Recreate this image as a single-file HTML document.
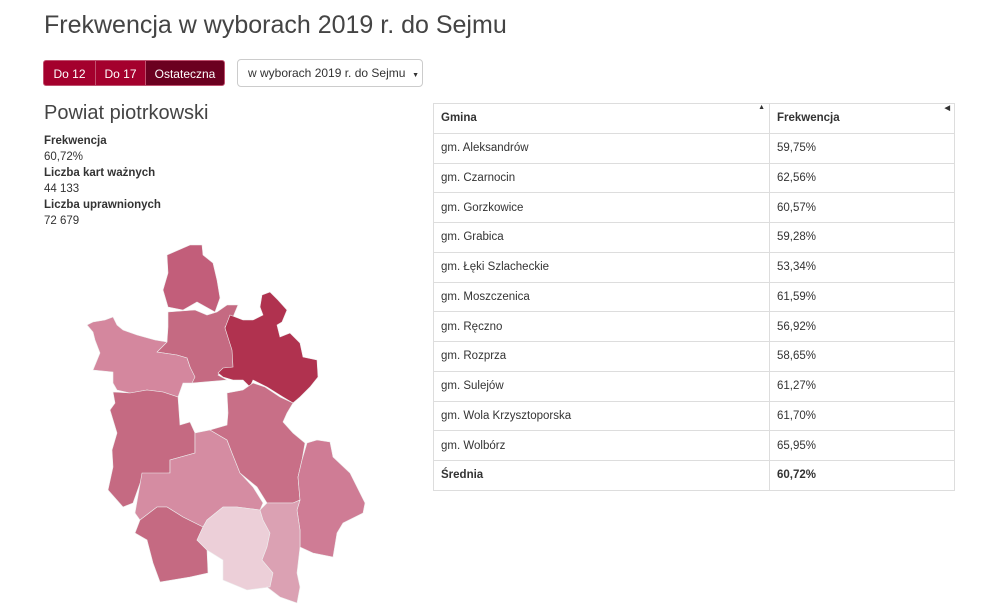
<!DOCTYPE html>
<html><head><meta charset="utf-8"><style>
body{margin:0;width:991px;height:610px;background:#fff;font-family:"Liberation Sans",sans-serif;color:#333;position:relative;overflow:hidden}
.a{position:absolute}
h1{position:absolute;left:44px;top:11px;margin:0;font-weight:normal;font-size:25px;color:#444}
.btn{position:absolute;top:60px;height:26px;line-height:26px;color:#fff;font-size:12px;text-align:center;background:#a4002d;border:1px solid #c0506e;box-sizing:border-box}
table{position:absolute;left:433px;top:103px;width:522px;border-collapse:collapse;font-size:11.5px}
td{border:1px solid #ddd;height:29.75px;padding:0 0 0 7px;box-sizing:border-box}
td:first-child{width:336px}
.b{font-weight:bold}
</style></head><body>
<h1>Frekwencja w wyborach 2019 r. do Sejmu</h1>
<div class="btn" style="left:43px;width:53px;border-radius:3px 0 0 3px">Do 12</div>
<div class="btn" style="left:95px;width:51px">Do 17</div>
<div class="btn" style="left:145px;width:80px;background:#6b0020;border-radius:0 3px 3px 0">Ostateczna</div>
<div class="a" style="left:237px;top:59px;width:186px;height:28px;border:1px solid #ccc;border-radius:4px;box-sizing:border-box;font-size:12px;line-height:26px;padding-left:10px;color:#333">w wyborach 2019 r. do Sejmu &nbsp;<span style="font-size:7px">▼</span></div>
<div class="a" style="left:44px;top:102px;font-size:20px;color:#444">Powiat piotrkowski</div>
<div class="a" style="left:44px;top:133px;font-size:11.5px;line-height:16px"><b>Frekwencja</b><br>60,72%<br><b>Liczba kart ważnych</b><br>44 133<br><b>Liczba uprawnionych</b><br>72 679</div>
<svg class="a" style="left:0;top:0" width="991" height="610" stroke="#eee" stroke-width="0.6">
<polygon fill="#c25e7a" points="167,255 190,245 202,245 203,255 213,263 217,280 220,298 215,312 197,302 183,310 168,307 163,290 168,273"/>
<polygon fill="#c56a82" points="168,312 195,310 207,315 217,312 227,305 238,305 233,317 225,327 233,350 235,370 223,370 218,375 227,380 192,383 190,367 187,358 177,355 157,352 167,342 168,327"/>
<polygon fill="#b0324f" points="262,295 270,292 278,300 287,310 282,322 277,325 280,337 290,333 300,343 303,357 317,360 318,377 310,387 300,397 293,403 283,397 267,387 253,380 250,387 243,380 233,380 223,377 218,373 223,368 233,367 232,350 225,328 230,315 243,320 253,320 263,315 260,307"/>
<polygon fill="#d4879e" points="87,325 93,322 105,320 113,317 117,325 123,330 137,335 155,340 167,342 157,352 177,355 187,358 190,367 195,377 192,383 183,383 178,397 163,392 147,390 130,393 117,390 113,383 113,372 93,370 100,353 95,340 93,332"/>
<polygon fill="#c56a82" points="113,392 130,393 147,390 163,392 178,397 180,425 190,422 195,433 195,453 170,460 170,473 143,475 133,503 123,507 108,490 113,467 112,450 117,433 110,410 115,403"/>
<polygon fill="#d58ca2" points="195,433 210,430 227,440 232,453 240,473 253,487 263,503 260,510 237,507 223,507 207,520 203,527 183,517 167,507 157,507 140,520 135,513 142,473 170,473 170,460 195,453"/>
<polygon fill="#c86f87" points="227,393 243,390 253,383 265,387 280,397 293,403 287,413 283,422 293,433 305,443 302,460 298,477 300,500 293,503 267,503 257,487 240,473 232,453 227,440 210,430 227,425 228,413"/>
<polygon fill="#cf7c95" points="307,443 317,440 330,442 333,457 350,473 357,487 365,503 363,513 343,523 337,533 333,557 313,553 300,547 300,530 297,510 300,500 298,477 302,460"/>
<polygon fill="#c56a82" points="140,520 157,507 167,507 183,517 203,527 197,540 207,550 208,573 190,577 160,582 153,563 147,540 135,533"/>
<polygon fill="#eccfd8" points="223,507 237,507 260,510 263,520 270,533 267,547 262,560 273,573 270,587 247,590 223,580 223,560 207,550 197,540 203,527 207,520"/>
<polygon fill="#dba1b3" points="260,510 267,503 293,503 300,500 297,510 300,530 300,547 297,573 300,587 297,603 280,597 267,587 270,587 273,573 262,560 267,547 270,533 263,520"/>
</svg>
<table>
<tr><td class="b">Gmina<span style="float:right;font-size:7px;margin:-8px 4px 0 0">▲</span></td><td class="b">Frekwencja<span style="float:right;font-size:7px;margin:-8px 4px 0 0">◀</span></td></tr>
<tr><td>gm. Aleksandrów</td><td>59,75%</td></tr>
<tr><td>gm. Czarnocin</td><td>62,56%</td></tr>
<tr><td>gm. Gorzkowice</td><td>60,57%</td></tr>
<tr><td>gm. Grabica</td><td>59,28%</td></tr>
<tr><td>gm. Łęki Szlacheckie</td><td>53,34%</td></tr>
<tr><td>gm. Moszczenica</td><td>61,59%</td></tr>
<tr><td>gm. Ręczno</td><td>56,92%</td></tr>
<tr><td>gm. Rozprza</td><td>58,65%</td></tr>
<tr><td>gm. Sulejów</td><td>61,27%</td></tr>
<tr><td>gm. Wola Krzysztoporska</td><td>61,70%</td></tr>
<tr><td>gm. Wolbórz</td><td>65,95%</td></tr>
<tr><td class="b">Średnia</td><td class="b">60,72%</td></tr>
</table>
</body></html>
